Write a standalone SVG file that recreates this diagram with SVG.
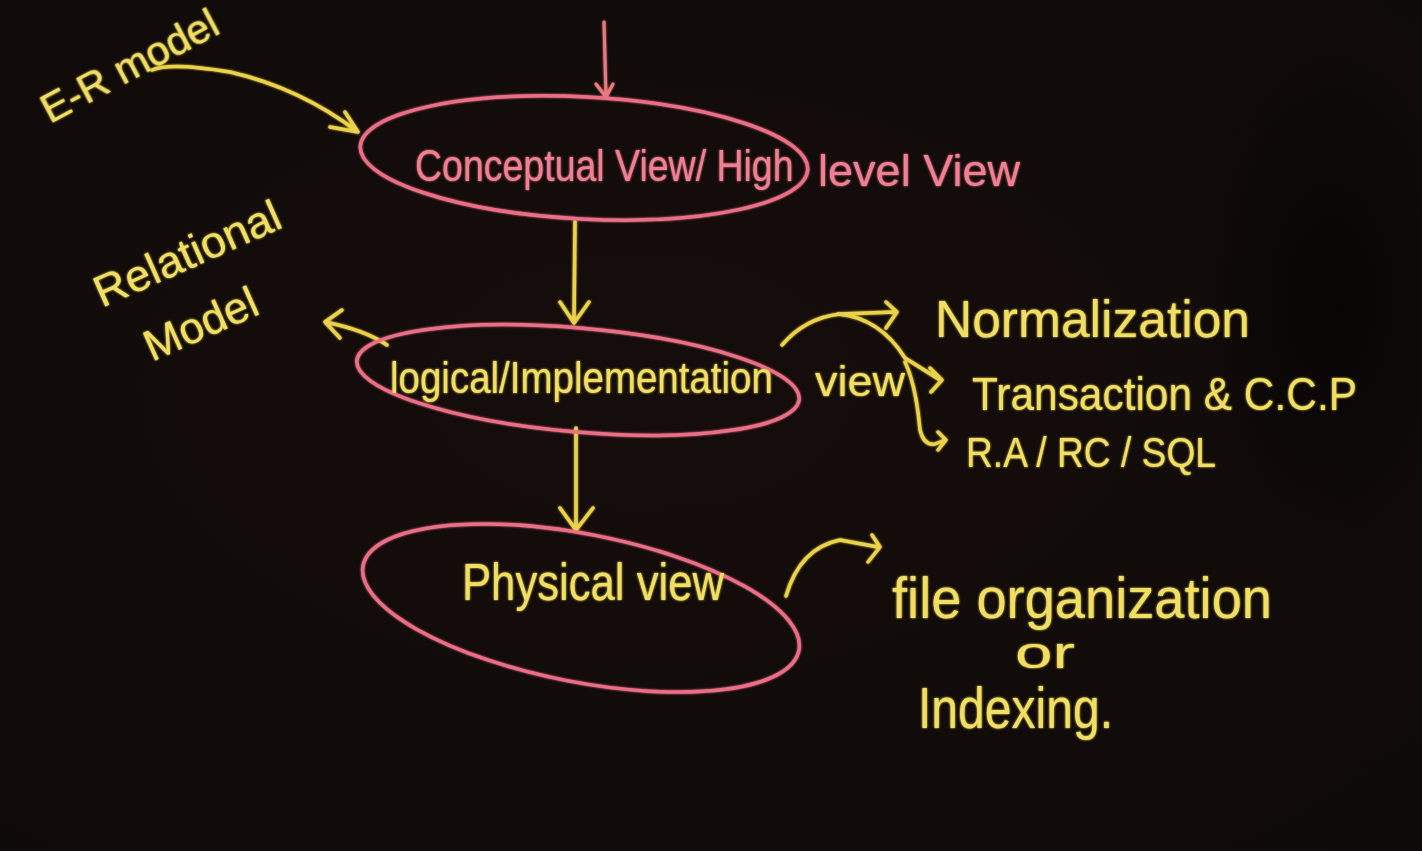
<svg xmlns="http://www.w3.org/2000/svg" width="1422" height="851" viewBox="0 0 1422 851">
<defs>
<radialGradient id="bg" cx="0.45" cy="0.45" r="0.8">
<stop offset="0" stop-color="#150d0b"/>
<stop offset="1" stop-color="#0e0a09"/>
</radialGradient>
<radialGradient id="shadow" cx="0.5" cy="0.5" r="0.5">
<stop offset="0" stop-color="#050303" stop-opacity="0.8"/>
<stop offset="1" stop-color="#050303" stop-opacity="0"/>
</radialGradient>
<filter id="glow" x="-10%" y="-10%" width="120%" height="120%">
<feGaussianBlur stdDeviation="1.2" result="b"/>
<feMerge><feMergeNode in="b"/><feMergeNode in="SourceGraphic"/></feMerge>
</filter>
</defs>
<style>
.ell{fill:none;stroke:#ea6e86;stroke-width:3.5}
.yl{fill:none;stroke:#ecd24a;stroke-width:3.5;stroke-linecap:round;stroke-linejoin:round}
.pk{fill:none;stroke:#ea7a80;stroke-width:3;stroke-linecap:round;stroke-linejoin:round}
.ty{fill:#f1de62;font-family:"Liberation Sans","DejaVu Sans",sans-serif}
.tp{fill:#f07f92;font-family:"Liberation Sans","DejaVu Sans",sans-serif}
</style>
<rect width="1422" height="851" fill="url(#bg)"/>
<ellipse cx="1330" cy="300" rx="140" ry="260" fill="url(#shadow)"/>
<g filter="url(#glow)">
<g id="connectors">
<path class="pk" d="M604 22 L606 97 M596 84 L606 97 L613 84"/>
<path class="yl" d="M575 222 L574 323 M560 302 L574 323 L589 302"/>
<path class="yl" d="M576 428 L576 530 M560 508 L576 530 L593 508"/>
<path class="yl" d="M152 70 Q170 62 230 72 Q300 88 358 132 M330 127 L358 132 L345 112"/>
<path class="yl" d="M387 345 Q365 330 325 322 M342 310 L325 322 L340 338"/>
<path class="yl" d="M782 345 Q805 318 840 314 L895 312 M886 302 L897 312 L886 328"/>
<path class="yl" d="M838 314 Q880 318 905 358 L940 380 M930 368 L942 380 L931 392"/>
<path class="yl" d="M905 362 Q916 385 920 430 Q924 446 935 444 L945 440 M938 432 L946 440 L938 450"/>
<path class="yl" d="M786 596 Q800 548 840 540 L878 547 M872 535 L880 547 L868 562"/>
</g>
<g id="node-conceptual">
<ellipse class="ell" cx="584" cy="158" rx="224" ry="61" transform="rotate(3 584 158)"/>
<text class="tp" x="0" y="0" font-size="37.5" transform="translate(415 181) scale(1 1.2)">Conceptual View/ High</text>
<text class="tp" x="818" y="186" font-size="44" textLength="202" lengthAdjust="spacingAndGlyphs">level View</text>
</g>
<g id="node-logical">
<ellipse class="ell" cx="578" cy="380" rx="222" ry="52" transform="rotate(5 578 380)"/>
<text class="ty" x="0" y="0" font-size="38.5" transform="translate(390 393) scale(1 1.15)">logical/Implementation</text>
<text class="ty" x="815" y="396" font-size="42" textLength="90" lengthAdjust="spacingAndGlyphs">view</text>
</g>
<g id="node-physical">
<ellipse class="ell" cx="581" cy="608" rx="222" ry="74" transform="rotate(11 581 608)"/>
<text class="ty" x="462" y="600" font-size="52" textLength="262" lengthAdjust="spacingAndGlyphs">Physical view</text>
</g>
<g id="label-er">
<text class="ty" x="50" y="124" font-size="40" transform="rotate(-28 50 124)" textLength="195" lengthAdjust="spacingAndGlyphs">E-R model</text>
</g>
<g id="label-relational">
<text class="ty" x="102" y="308" font-size="44" transform="rotate(-24 102 308)" textLength="200" lengthAdjust="spacingAndGlyphs">Relational</text>
<text class="ty" x="152" y="362" font-size="44" transform="rotate(-24 152 362)" textLength="120" lengthAdjust="spacingAndGlyphs">Model</text>
</g>
<g id="label-normalization">
<text class="ty" x="935" y="337" font-size="52" textLength="315" lengthAdjust="spacingAndGlyphs">Normalization</text>
</g>
<g id="label-transaction">
<text class="ty" x="972" y="410" font-size="46" textLength="385" lengthAdjust="spacingAndGlyphs">Transaction &amp; C.C.P</text>
</g>
<g id="label-ra">
<text class="ty" x="966" y="467" font-size="42" textLength="250" lengthAdjust="spacingAndGlyphs">R.A / RC / SQL</text>
</g>
<g id="label-file">
<text class="ty" x="892" y="618" font-size="58" textLength="380" lengthAdjust="spacingAndGlyphs">file organization</text>
<text class="ty" x="1015" y="668" font-size="44" textLength="60" lengthAdjust="spacingAndGlyphs">or</text>
<text class="ty" x="918" y="728" font-size="58" textLength="195" lengthAdjust="spacingAndGlyphs">Indexing.</text>
</g>
</g>
</svg>
